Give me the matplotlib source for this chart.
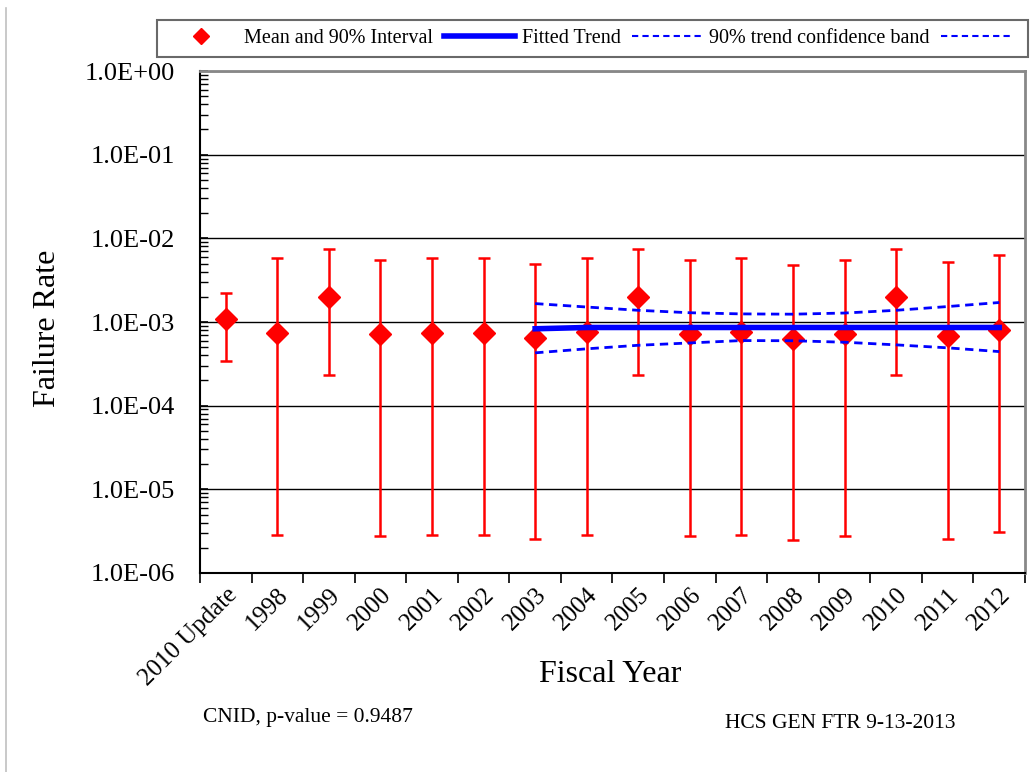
import numpy as np
import matplotlib
matplotlib.use("Agg")
import matplotlib.pyplot as plt
from matplotlib.lines import Line2D
from matplotlib.ticker import LogLocator, NullFormatter, FixedLocator

plt.rcParams["font.family"] = ["Liberation Serif", "DejaVu Serif"]

categories = ["2010 Update", "1998", "1999", "2000", "2001", "2002", "2003", "2004",
              "2005", "2006", "2007", "2008", "2009", "2010", "2011", "2012"]
mean_rate = [1.09e-3, 7.4e-4, 1.99e-3, 7.1e-4, 7.4e-4, 7.4e-4, 6.45e-4, 7.55e-4,
             1.99e-3, 7.2e-4, 7.55e-4, 6.2e-4, 7.2e-4, 1.99e-3, 6.75e-4, 7.95e-4]
upper_90 = [2.22e-3, 5.75e-3, 7.5e-3, 5.55e-3, 5.75e-3, 5.75e-3, 4.98e-3, 5.8e-3,
            7.5e-3, 5.55e-3, 5.8e-3, 4.84e-3, 5.55e-3, 7.5e-3, 5.2e-3, 6.25e-3]
lower_90 = [3.46e-4, 2.88e-6, 2.33e-4, 2.77e-6, 2.88e-6, 2.88e-6, 2.58e-6, 2.88e-6,
            2.33e-4, 2.77e-6, 2.88e-6, 2.48e-6, 2.77e-6, 2.33e-4, 2.58e-6, 3.07e-6]

trend_years = ["2003", "2004", "2005", "2006", "2007", "2008", "2009", "2010", "2011", "2012"]
trend_fit = [8.3e-4, 8.6e-4, 8.6e-4, 8.6e-4, 8.6e-4, 8.6e-4, 8.6e-4, 8.6e-4, 8.6e-4, 8.6e-4]
trend_upper = [1.66e-3, 1.51e-3, 1.38e-3, 1.29e-3, 1.25e-3, 1.24e-3, 1.28e-3, 1.38e-3, 1.53e-3, 1.71e-3]
trend_lower = [4.28e-4, 4.78e-4, 5.27e-4, 5.62e-4, 6.0e-4, 5.97e-4, 5.73e-4, 5.33e-4, 4.91e-4, 4.43e-4]

x = np.arange(len(categories))
xt = np.array([categories.index(y) for y in trend_years])
mean_rate = np.array(mean_rate)
yerr = [mean_rate - np.array(lower_90), np.array(upper_90) - mean_rate]

fig = plt.figure(figsize=(10.34, 7.72), dpi=100)
ax = fig.add_axes([0.1934, 0.2578, 0.7979, 0.6502])

ax.errorbar(x, mean_rate, yerr=yerr, fmt="D", color="red", ms=11, elinewidth=1.8,
            capsize=4.5, capthick=1.8, zorder=3)
ax.plot(xt, trend_fit, color="blue", lw=4, zorder=4)
ax.plot(xt, trend_upper, color="blue", lw=2, ls=(0, (3, 2)), zorder=4)
ax.plot(xt, trend_lower, color="blue", lw=2, ls=(0, (3, 2)), zorder=4)

ax.set_yscale("log")
ax.set_ylim(1e-6, 1)
ax.set_xlim(-0.5, len(categories) - 0.5)
ax.yaxis.set_minor_locator(LogLocator(base=10, subs=np.arange(2, 10), numticks=10))
ax.yaxis.set_minor_formatter(NullFormatter())
ax.set_yticks([10.0 ** k for k in range(-6, 1)])
ax.set_yticklabels([f"1.0E{k:+03d}" for k in range(-6, 1)])
ax.tick_params(axis="y", which="major", direction="in", length=6, width=1.2, labelsize=19, pad=18)
ax.tick_params(axis="y", which="minor", direction="in", length=5.5, width=1)
ax.yaxis.grid(True, which="major", color="black", lw=1)

ax.set_xticks(x)
ax.set_xticklabels(categories, rotation=45, ha="right", rotation_mode="anchor", fontsize=18)
ax.xaxis.set_minor_locator(FixedLocator(np.arange(-0.5, len(categories), 1)))
ax.tick_params(axis="x", which="major", length=0, pad=8)
ax.tick_params(axis="x", which="minor", direction="out", length=7, width=1.2)

for side in ["left", "bottom"]:
    ax.spines[side].set_color("black")
    ax.spines[side].set_linewidth(1.5)
for side in ["top", "right"]:
    ax.spines[side].set_color("#888888")
    ax.spines[side].set_linewidth(2)

fig.text(0.046, 0.575, "Failure Rate", fontsize=23, rotation=90, ha="center", va="center")
fig.text(0.590, 0.126, "Fiscal Year", fontsize=23, ha="center", va="center")

handles = [
    Line2D([], [], marker="D", color="red", ls="none", ms=8),
    Line2D([], [], color="blue", lw=4),
    Line2D([], [], color="blue", lw=1.5, ls=(0, (3, 2))),
    Line2D([], [], color="blue", lw=1.5, ls=(0, (3, 2))),
]
labels = ["Mean and 90% Interval", "Fitted Trend", "90% trend confidence band", ""]
leg = fig.legend(handles, labels, loc="upper left", bbox_to_anchor=(0.152, 0.924, 0.842, 0.05),
                 mode="expand", ncol=4, fontsize=14.5, frameon=True, fancybox=False,
                 handlelength=3.5, columnspacing=0.5, handletextpad=0.35, borderpad=0.45,
                 borderaxespad=0.0)
leg.get_frame().set_edgecolor("#444444")
leg.get_frame().set_linewidth(1.5)

fig.text(0.196, 0.071, "CNID, p-value = 0.9487", fontsize=15.5, va="center")
fig.text(0.701, 0.063, "HCS GEN FTR 9-13-2013", fontsize=15.5, va="center")

fig.add_artist(Line2D([0.006, 0.006], [0.0, 0.99], color="#c0c0c0", lw=1.2,
                      transform=fig.transFigure))

fig.savefig("out.png", dpi=100)
